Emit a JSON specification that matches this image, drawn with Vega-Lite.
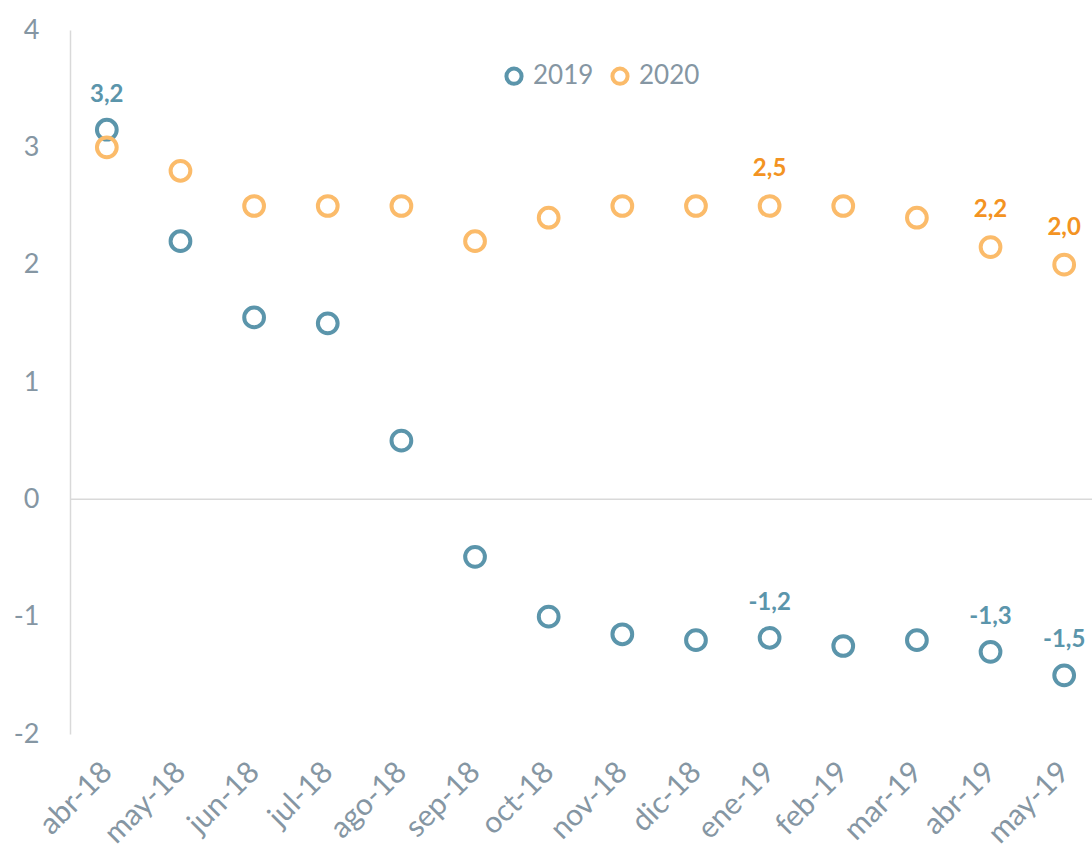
{
  "$schema": "https://vega.github.io/schema/vega-lite/v6.json",
  "width": 1031,
  "height": 704,
  "autosize": {"type": "none"},
  "padding": {"left": 70, "top": 30, "right": 0, "bottom": 116},
  "background": "white",
  "config": {"view": {"stroke": null}, "font": "Lato"},
  "data": {"values": [
    {"month": "abr-18", "series": "2019", "value": 3.15, "label": "3,2"},
    {"month": "may-18", "series": "2019", "value": 2.2, "label": ""},
    {"month": "jun-18", "series": "2019", "value": 1.55, "label": ""},
    {"month": "jul-18", "series": "2019", "value": 1.5, "label": ""},
    {"month": "ago-18", "series": "2019", "value": 0.5, "label": ""},
    {"month": "sep-18", "series": "2019", "value": -0.49, "label": ""},
    {"month": "oct-18", "series": "2019", "value": -1.0, "label": ""},
    {"month": "nov-18", "series": "2019", "value": -1.15, "label": ""},
    {"month": "dic-18", "series": "2019", "value": -1.2, "label": ""},
    {"month": "ene-19", "series": "2019", "value": -1.18, "label": "-1,2"},
    {"month": "feb-19", "series": "2019", "value": -1.25, "label": ""},
    {"month": "mar-19", "series": "2019", "value": -1.2, "label": ""},
    {"month": "abr-19", "series": "2019", "value": -1.3, "label": "-1,3"},
    {"month": "may-19", "series": "2019", "value": -1.5, "label": "-1,5"},
    {"month": "abr-18", "series": "2020", "value": 3.0, "label": ""},
    {"month": "may-18", "series": "2020", "value": 2.8, "label": ""},
    {"month": "jun-18", "series": "2020", "value": 2.5, "label": ""},
    {"month": "jul-18", "series": "2020", "value": 2.5, "label": ""},
    {"month": "ago-18", "series": "2020", "value": 2.5, "label": ""},
    {"month": "sep-18", "series": "2020", "value": 2.2, "label": ""},
    {"month": "oct-18", "series": "2020", "value": 2.4, "label": ""},
    {"month": "nov-18", "series": "2020", "value": 2.5, "label": ""},
    {"month": "dic-18", "series": "2020", "value": 2.5, "label": ""},
    {"month": "ene-19", "series": "2020", "value": 2.5, "label": "2,5"},
    {"month": "feb-19", "series": "2020", "value": 2.5, "label": ""},
    {"month": "mar-19", "series": "2020", "value": 2.4, "label": ""},
    {"month": "abr-19", "series": "2020", "value": 2.15, "label": "2,2"},
    {"month": "may-19", "series": "2020", "value": 2.0, "label": "2,0"}
  ]},
  "encoding": {
    "x": {
      "field": "month", "type": "nominal", "sort": null,
      "scale": {"paddingInner": 0, "paddingOuter": 0},
      "axis": {
        "title": null, "domain": false, "ticks": false, "grid": false,
        "labelAngle": -45, "labelFontSize": 30, "labelColor": "#8596a3",
        "labelPadding": 33, "labelAlign": "right", "labelBaseline": "middle",
        "labelOverlap": false
      }
    },
    "y": {
      "field": "value", "type": "quantitative",
      "scale": {"domain": [-2, 4], "nice": false, "zero": false},
      "axis": {
        "title": null, "grid": false, "ticks": false, "values": [-2, -1, 0, 1, 2, 3, 4],
        "labelOverlap": false, "labelExpr": "replace(datum.label, '−', '-')",
        "domainColor": "#d9d9d9", "domainWidth": 1.5,
        "labelFontSize": 27, "labelColor": "#8596a3", "labelPadding": 31
      }
    }
  },
  "layer": [
    {
      "data": {"values": [{"z": 0}]},
      "mark": {"type": "rule", "color": "#d9d9d9", "strokeWidth": 1.5},
      "encoding": {"y": {"field": "z", "type": "quantitative"}, "x": {"value": 0}, "x2": {"value": 1031}}
    },
    {
      "mark": {"type": "point", "filled": false, "strokeWidth": 4, "size": 390, "opacity": 1},
      "encoding": {
        "color": {
          "field": "series", "type": "nominal",
          "scale": {"domain": ["2019", "2020"], "range": ["#5b95ab", "#fbbb6a"]},
          "legend": {
            "title": null, "orient": "none", "legendX": 431, "legendY": 33,
            "direction": "horizontal", "symbolType": "circle", "symbolSize": 230,
            "symbolStrokeWidth": 4, "labelFontSize": 26, "labelColor": "#8596a3",
            "columnSpacing": 20, "labelOffset": 6
          }
        }
      }
    },
    {
      "transform": [{"filter": "datum.series == '2019' && datum.label != ''"}],
      "mark": {"type": "text", "dy": -35, "fontSize": 24, "fontWeight": "bold", "color": "#5b95ab"},
      "encoding": {"text": {"field": "label"}}
    },
    {
      "transform": [{"filter": "datum.series == '2020' && datum.label != ''"}],
      "mark": {"type": "text", "dy": -37, "fontSize": 24, "fontWeight": "bold", "color": "#f39322"},
      "encoding": {"text": {"field": "label"}}
    }
  ]
}
